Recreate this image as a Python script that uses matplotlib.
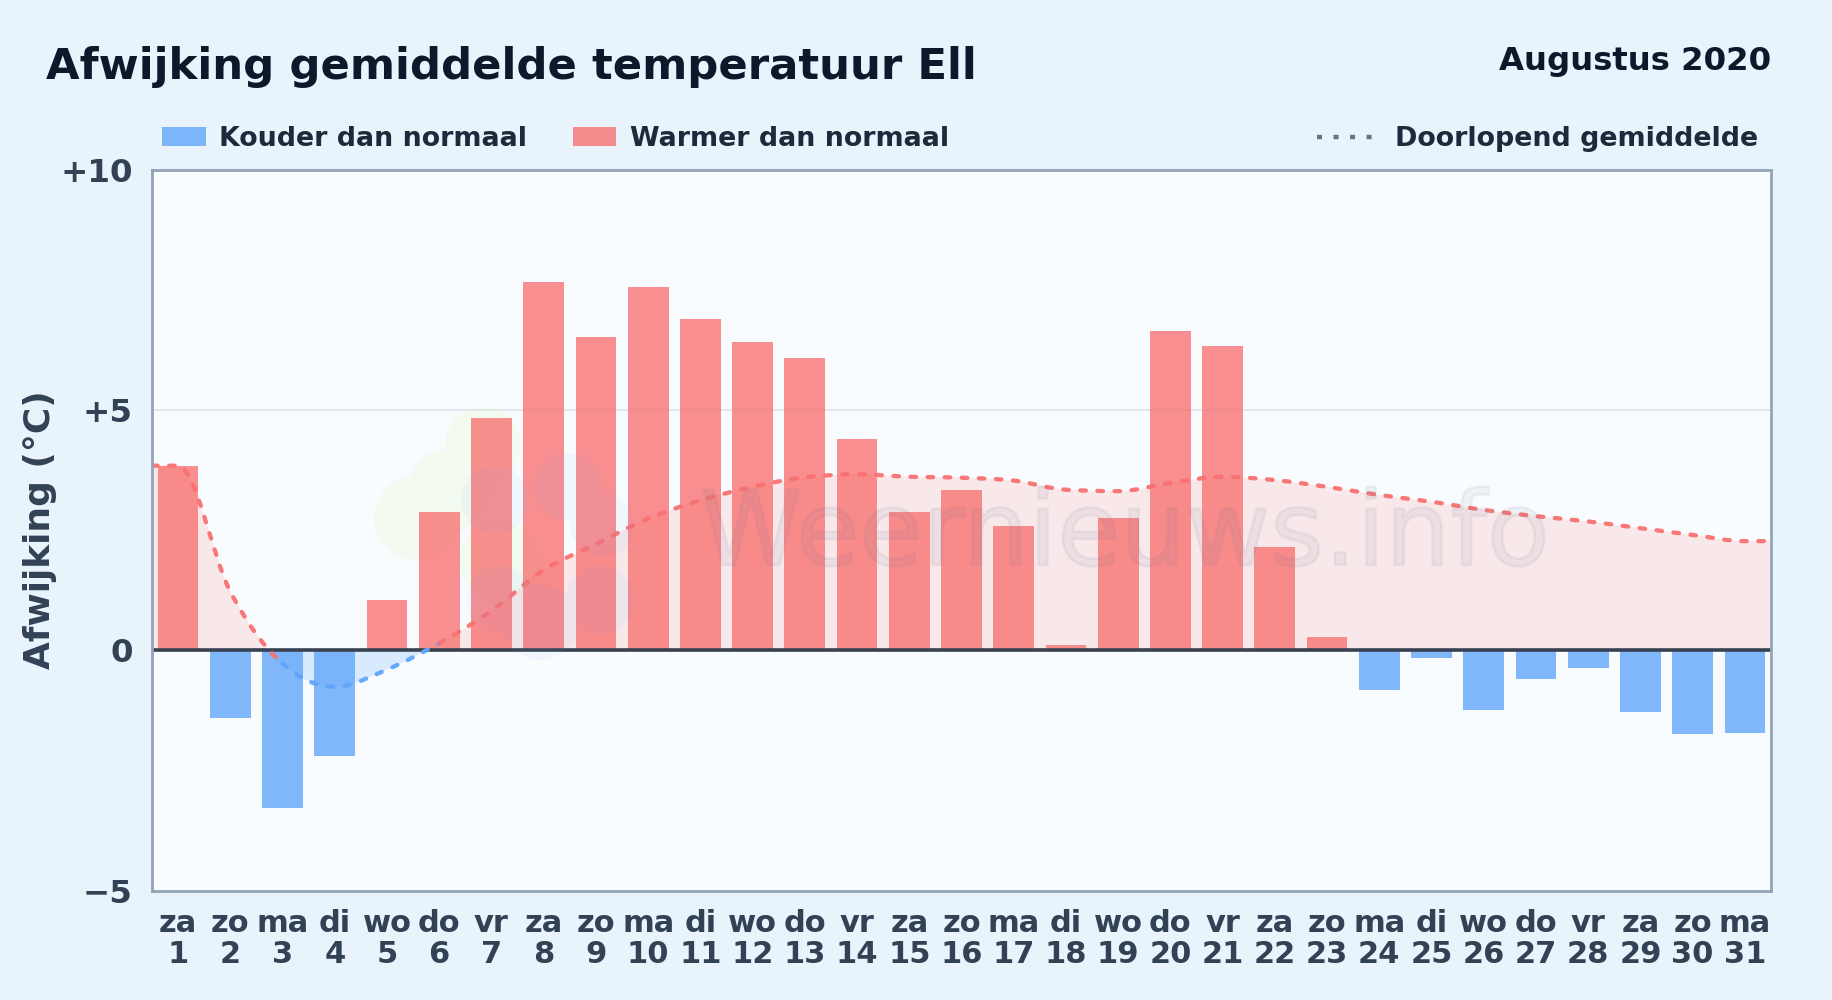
"""Afwijking gemiddelde temperatuur Ell, augustus 2020."""
import matplotlib
matplotlib.use("Agg")
import matplotlib.patheffects as pe
import matplotlib.pyplot as plt
from matplotlib.patches import Circle, PathPatch, Rectangle
from matplotlib.path import Path
from matplotlib.transforms import Affine2D, IdentityTransform

W, H = 1832, 1000

DAY_NAMES = ["za", "zo", "ma", "di", "wo", "do", "vr"] * 4 + ["za", "zo", "ma"]
DAYS = list(range(1, 32))
ANOMALY = [3.84, -1.41, -3.28, -2.19, 1.05, 2.87, 4.84, 7.65, 6.51, 7.55, 6.90,
           6.42, 6.08, 4.40, 2.87, 3.33, 2.58, 0.10, 2.75, 6.65, 6.32, 2.14,
           0.27, -0.83, -0.15, -1.24, -0.60, -0.37, -1.29, -1.75, -1.72]
RUNNING = [3.84, 1.22, -0.28, -0.76, -0.40, 0.15, 0.82, 1.67, 2.21, 2.74, 3.12,
           3.40, 3.60, 3.66, 3.61, 3.59, 3.53, 3.34, 3.31, 3.48, 3.61, 3.54,
           3.40, 3.23, 3.09, 2.92, 2.79, 2.68, 2.54, 2.40, 2.27]
YTICKS = [-5, 0, 5, 10]
YTICK_LABELS = ["\u22125", "0", "+5", "+10"]

RED, BLUE = "#f87171", "#60a5fa"
INK, INK2, INK3 = "#0f172a", "#1e293b", "#334155"

plt.rcParams["lines.scale_dashes"] = False
plt.rcParams["font.family"] = "DejaVu Sans"
plt.rcParams["font.weight"] = "bold"


def fx(x):
    return x / W


def fy(y):
    return 1 - y / H


def sign(v):
    return (v > 0) - (v < 0)


def smooth_path(xs, ys, closed_base=False):
    # monotone cubic through the points, as bezier segments
    n = len(xs)
    secant = [(ys[i + 1] - ys[i]) / (xs[i + 1] - xs[i]) for i in range(n - 1)]
    slope = [secant[0]] + [0.0] * (n - 2) + [secant[-1]]
    for i in range(1, n - 1):
        s0, s1 = secant[i - 1], secant[i]
        h0, h1 = xs[i] - xs[i - 1], xs[i + 1] - xs[i]
        p = (s0 * h1 + s1 * h0) / (h0 + h1)
        slope[i] = (sign(s0) + sign(s1)) * min(abs(s0), abs(s1), 0.5 * abs(p))
    verts, codes = [(xs[0], ys[0])], [Path.MOVETO]
    for i in range(n - 1):
        d = (xs[i + 1] - xs[i]) / 3
        verts += [(xs[i] + d, ys[i] + slope[i] * d),
                  (xs[i + 1] - d, ys[i + 1] - slope[i + 1] * d),
                  (xs[i + 1], ys[i + 1])]
        codes += [Path.CURVE4] * 3
    if closed_base:
        verts += [(xs[-1], 0), (xs[0], 0), (xs[0], 0)]
        codes += [Path.LINETO, Path.LINETO, Path.CLOSEPOLY]
    return Path(verts, codes)


def blob(circles):
    # one compound shape so overlaps do not darken, in pixels from the top left
    parts = []
    for c, r in circles:
        p = Circle(c, r)
        parts.append(p.get_path().transformed(p.get_patch_transform()))
    return Path.make_compound_path(*parts).transformed(Affine2D().scale(1, -1).translate(0, H))


fig = plt.figure(figsize=(W / 100, H / 100), dpi=100, facecolor="#e8f3fc")
ax = fig.add_axes([fx(152), fy(890.7), fx(1771 - 152), (890.7 - 169.5) / H], facecolor="#f8fcff")
ax.set_xlim(0.5, 31.5)
ax.set_ylim(-5, 10)

# line runs on to both plot edges
line_x = [0.5] + DAYS + [31.5]
line_y = [RUNNING[0]] + RUNNING + [RUNNING[-1]]

ax.axhline(5, color="#e2e8f0", lw=1.5, zorder=1)

# sun of the logo sits behind the bars
sun = blob([((416, 518), 42), ((483, 445), 38), ((450, 490), 42), ((500, 560), 40)])
ax.add_patch(PathPatch(sun, fc="#d9f99d", ec="none", alpha=0.14, transform=IdentityTransform(), zorder=1.5))

for color, box in ((RED, (0.5, 0, 31, 10)), (BLUE, (0.5, -5, 31, 5))):
    area = PathPatch(smooth_path(line_x, line_y, True), fc=color, ec="none",
                     alpha=0.2 if color == BLUE else 0.14, zorder=2)
    ax.add_patch(area)
    area.set_clip_path(Rectangle(box[:2], box[2], box[3], transform=ax.transData))

colors = [BLUE if v < 0 else RED for v in ANOMALY]
ax.bar(DAYS, ANOMALY, width=0.78, color=colors, alpha=0.79, linewidth=0, zorder=3)

# running mean, coloured per stretch by the sign at its start
full = smooth_path(line_x, line_y)
start = 0
for i in range(1, len(line_x)):
    if i == len(line_x) - 1 or (line_y[i] < 0) != (line_y[start] < 0):
        seg_codes = full.codes[start * 3:i * 3 + 1].copy()
        seg_codes[0] = Path.MOVETO
        seg = Path(full.vertices[start * 3:i * 3 + 1], seg_codes)
        ax.add_patch(PathPatch(seg, fc="none", ec=BLUE if line_y[start] < 0 else RED, lw=3.1,
                               ls=(0, (4, 8.3)), capstyle="round", alpha=0.95, zorder=5))
        start = i

ax.axhline(0, color="#374151", lw=2.6, zorder=4)

# faint watermark over the bars
cloud = blob([((495, 500), 34), ((568, 487), 34), ((602, 525), 32),
              ((600, 600), 34), ((540, 622), 38), ((500, 600), 34)])
fig.add_artist(PathPatch(cloud, fc=BLUE, ec="none", alpha=0.06, transform=IdentityTransform(), zorder=6))
mark = fig.text(fx(700), fy(565), "Weernieuws.info", fontsize=74.2, fontweight="normal", color="#64748b",
                alpha=0.08, ha="left", va="baseline", zorder=6)
mark.set_path_effects([pe.Stroke(linewidth=2, foreground="#64748b", alpha=0.08)])

for s in ax.spines.values():
    s.set_color("#94a3b8")
    s.set_linewidth(2)
    s.set_zorder(7)

ax.set_yticks(YTICKS, YTICK_LABELS)
ax.set_xticks(DAYS, [f"{n}\n{d}" for n, d in zip(DAY_NAMES, DAYS)])
ax.tick_params(axis="both", length=0, labelcolor=INK3)
ax.tick_params(axis="y", pad=14, labelsize=23.4)
ax.tick_params(axis="x", pad=13, labelsize=22)
for t in ax.get_xticklabels():
    t.set_linespacing(1.1)

fig.text(fx(40.5), fy(530), "Afwijking (°C)", rotation=90, fontsize=25.9, color=INK3, ha="center", va="center")

fig.text(fx(46), fy(78.7), "Afwijking gemiddelde temperatuur Ell", fontsize=31.2, color=INK, va="baseline")
fig.text(fx(1771), fy(70), "Augustus 2020", fontsize=23.3, color=INK, ha="right", va="baseline")

# legend by hand, it is spread over the full width
for x0, x1, col in ((161.6, 205.8, BLUE), (573, 616, RED)):
    fig.add_artist(Rectangle((fx(x0), fy(146)), fx(x1 - x0), 19.3 / H, transform=fig.transFigure,
                             fc=col, ec="none", alpha=0.79))
fig.add_artist(plt.Line2D([fx(1317), fx(1376)], [fy(137), fy(137)], color="#6b7280", lw=3.2,
                          ls=(0, (3.6, 8.3)), transform=fig.transFigure))
for x, label in ((219, "Kouder dan normaal"), (630, "Warmer dan normaal"), (1395, "Doorlopend gemiddelde")):
    fig.text(fx(x), fy(146), label, fontsize=19.4, color=INK2, va="baseline")

fig.savefig("out.png", dpi=100, facecolor=fig.get_facecolor())
